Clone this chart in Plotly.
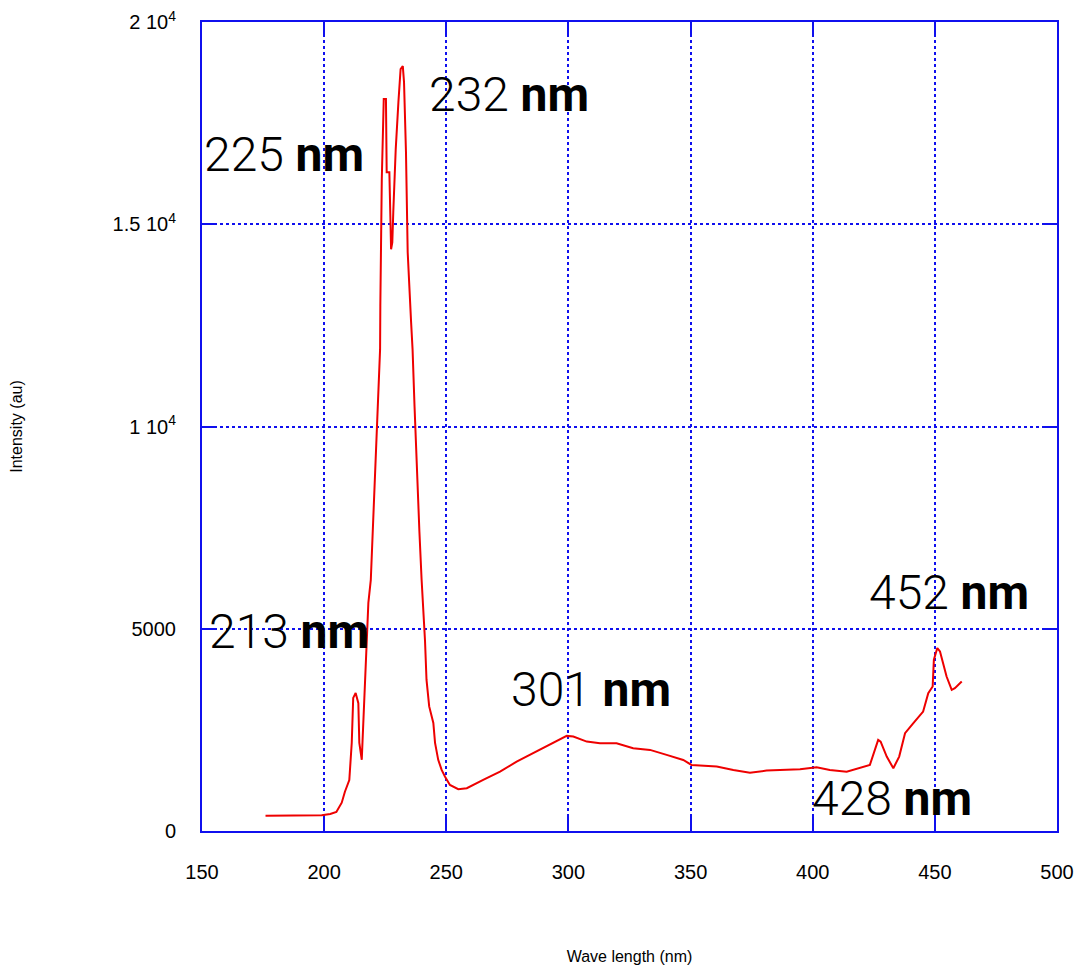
import plotly.graph_objects as go

wavelength = [176, 199, 202.5, 205, 207.2, 208.5, 210.3, 211.3, 211.9, 212.9, 214.0, 214.4,
              215.4, 216.0, 217.0, 218.1, 219.1, 220, 221, 222, 222.9, 223.0, 223.6, 224.4,
              225.3, 225.6, 226.7, 227.4, 227.9, 228.3, 229.3, 230.4, 231.3, 232.2, 232.7,
              233.5, 234.2, 235.6, 236.2, 237, 238, 239, 239.9, 240.5, 241.3, 241.9, 243.0,
              244.7, 245.4, 246.7, 248.1, 249.5, 250.8, 251.5, 254.9, 258.4, 265.1, 272.0,
              278.8, 285.6, 292.4, 299.3, 302.0, 307.5, 312.9, 319.7, 326.5, 333.4, 340.2,
              347.0, 350.4, 360.7, 367.5, 374.3, 381.1, 387.9, 394.8, 401.6, 407.0, 413.9,
              419.3, 423.4, 426.8, 427.8, 430.3, 433.0, 435.4, 437.8, 441.2, 445.2, 447.3,
              449.1, 449.6, 451.0, 452.1, 453.4, 454.8, 456.9, 458.2, 461.0]
intensity = [380, 390, 420, 470, 700, 970, 1260, 2180, 3290, 3410, 3160, 2180,
             1760, 2580, 4300, 5640, 6210, 7500, 8800, 10500, 11906, 12978, 16114, 18094,
             18094, 16287, 16287, 14381, 14554, 15297, 16856, 18020, 18837, 18911, 18515,
             16782, 14307, 12574, 11906, 10500, 8800, 7400, 6210, 5590, 4690, 3740, 3080,
             2670, 2180, 1760, 1510, 1340, 1220, 1139, 1032, 1057, 1262, 1468,
             1715, 1923, 2129, 2351, 2334, 2210, 2171, 2171, 2047, 2005, 1881,
             1757, 1634, 1592, 1510, 1443, 1493, 1510, 1527, 1577, 1510, 1468,
             1552, 1634, 2252, 2210, 1839, 1552, 1839, 2418, 2666, 2953, 3408,
             3572, 4233, 4522, 4438, 4151, 3819, 3490, 3532, 3696]

x_ticks = [150, 200, 250, 300, 350, 400, 450, 500]
y_ticks = [0, 5000, 10000, 15000, 20000]
y_ticktext = ["0", "5000", "1 10<sup>4</sup>", "1.5 10<sup>4</sup>", "2 10<sup>4</sup>"]

peak_labels = ["225", "232", "213", "301", "452", "428"]
label_x = [150.0, 242.1, 152.1, 275.7, 422.2, 398.9]
label_y = [16733, 18218, 4926, 3490, 5891, 792]

BLUE = "#1010ee"
fig = go.Figure()
fig.add_trace(go.Scatter(x=wavelength, y=intensity, mode="lines",
                         line=dict(color="#ee0000", width=2), showlegend=False))

for t, lx, ly in zip(peak_labels, label_x, label_y):
    fig.add_annotation(x=lx, y=ly, xref="x", yref="y", text=f"{t} <b>nm</b>",
                       showarrow=False, xanchor="left", yanchor="middle",
                       font=dict(family="Roboto", weight=300, size=48, color="black"))

axis_common = dict(showline=True, linecolor=BLUE, linewidth=2, mirror="ticks",
                   ticks="inside", ticklen=14, tickcolor=BLUE, tickwidth=2,
                   showgrid=True, gridcolor=BLUE, griddash="dot", gridwidth=1.5,
                   zeroline=False, automargin=False, ticklabeloverflow="allow",
                   tickfont=dict(family="Liberation Sans", size=20, color="black"))

fig.update_xaxes(range=[150, 500], tickvals=x_ticks, ticklabelstandoff=22,
                 title=dict(text="Wave length (nm)", standoff=70,
                            font=dict(family="Liberation Sans", size=16, color="black")),
                 **axis_common)
fig.update_yaxes(range=[0, 20000], tickvals=y_ticks, ticktext=y_ticktext, ticklabelstandoff=20,
                 title=dict(text="Intensity (au)", standoff=95,
                            font=dict(family="Liberation Sans", size=16, color="black")),
                 **axis_common)

fig.update_layout(width=1067, height=957, plot_bgcolor="white", paper_bgcolor="white",
                  margin=dict(l=194, r=18, t=14, b=134))
fig.write_html("out.html")
